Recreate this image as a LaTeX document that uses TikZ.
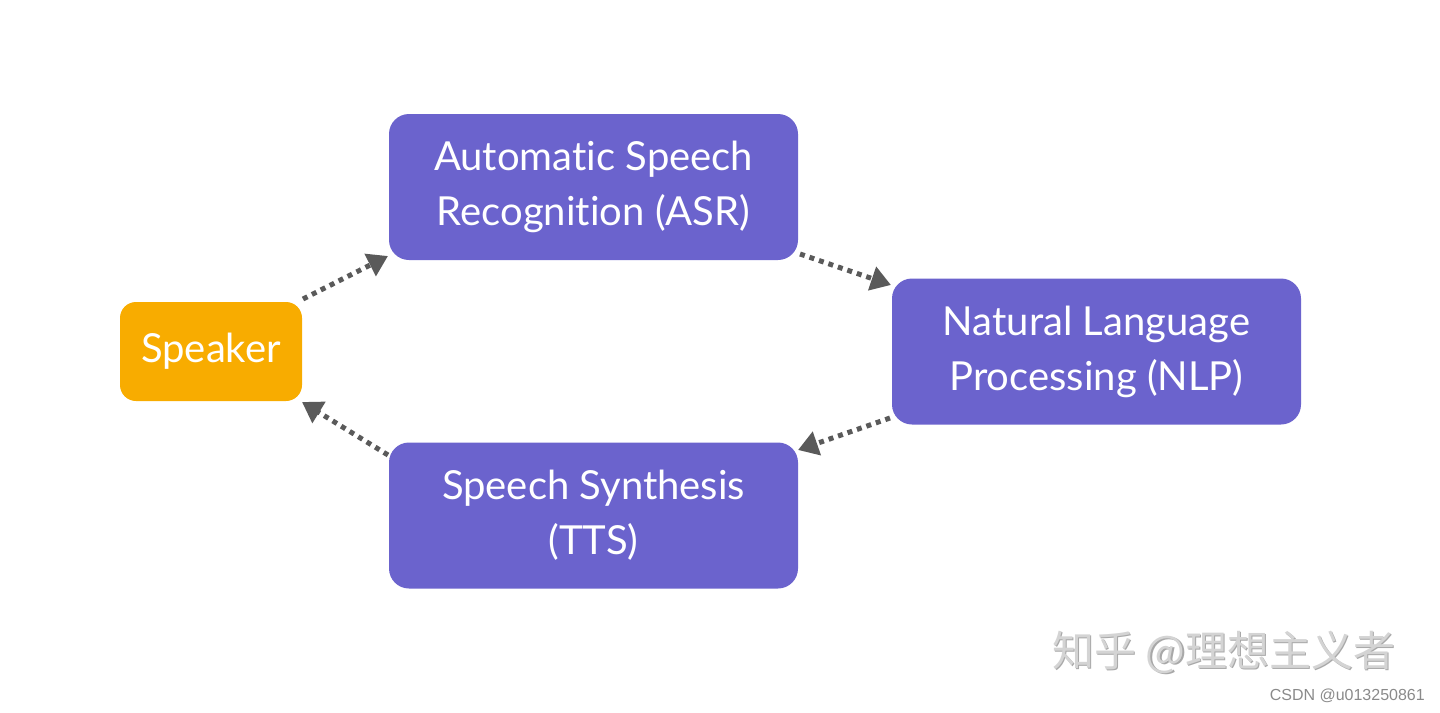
\documentclass[tikz,border=0pt]{standalone}
\usepackage{fontspec}
\setmainfont[Ligatures=CommonOff]{Lato}
\newfontfamily\cjkfont{Noto Sans CJK SC}
\newfontfamily\wmfont{Liberation Sans}
\usetikzlibrary{arrows.meta}
\definecolor{boxpurple}{HTML}{6B63CD}
\definecolor{boxorange}{HTML}{F8AC00}
\definecolor{arrowgray}{HTML}{5A5A5A}
\definecolor{wmgray}{HTML}{D4D4D4}
\definecolor{wmshadow}{HTML}{A8A8A8}
\definecolor{csdngray}{HTML}{8A8A8A}
\tikzset{
  box/.style={fill=boxpurple, rounded corners=20pt, text=white, align=center,
    minimum width=409pt, minimum height=146pt, inner sep=0pt,
    font=\fontsize{40}{55}\selectfont},
  spk/.style={fill=boxorange, rounded corners=16pt, text=white, align=center,
    minimum width=182pt, minimum height=99pt, inner sep=0pt,
    font=\fontsize{40}{55}\selectfont},
  flow/.style={draw=arrowgray, line width=5pt, dash pattern=on 5pt off 5pt,
    -{Triangle[length=20pt,width=24pt]}},
}
\begin{document}
\begin{tikzpicture}[x=1pt,y=-1pt]
\useasboundingbox (0,0) rectangle (1440,712);
\node[spk] (spk) at (211,351.5) {Speaker};
\node[box] (asr) at (593.5,187) {Automatic Speech\\Recognition (ASR)};
\node[box] (nlp) at (1096.5,351.5) {Natural Language\\Processing (NLP)};
\node[box] (tts) at (593.5,515.5) {Speech Synthesis\\(TTS)};
\coordinate (a1) at (303,299);
\coordinate (a2) at (388,256);
\coordinate (b1) at (800,254);
\coordinate (b2) at (891,285);
\coordinate (c1) at (890,418);
\coordinate (c2) at (798,450);
\coordinate (d1) at (388,455);
\coordinate (d2) at (302,402);
\draw[flow] (a1) -- (a2);
\draw[flow] (b1) -- (b2);
\draw[flow] (c1) -- (c2);
\draw[flow] (d1) -- (d2);
\node[anchor=west, inner sep=0pt, text=wmshadow, font=\cjkfont\fontsize{42}{42}\selectfont] (wms) at (1053.5,653.5) {知乎 @理想主义者};
\node[anchor=west, inner sep=0pt, text=wmgray, font=\cjkfont\fontsize{42}{42}\selectfont] (wm) at (1052,652) {知乎 @理想主义者};
\node[anchor=east, inner sep=0pt, text=csdngray, font=\wmfont\fontsize{16}{16}\selectfont] (csdn) at (1425,696) {CSDN @u013250861};
\end{tikzpicture}
\end{document}
